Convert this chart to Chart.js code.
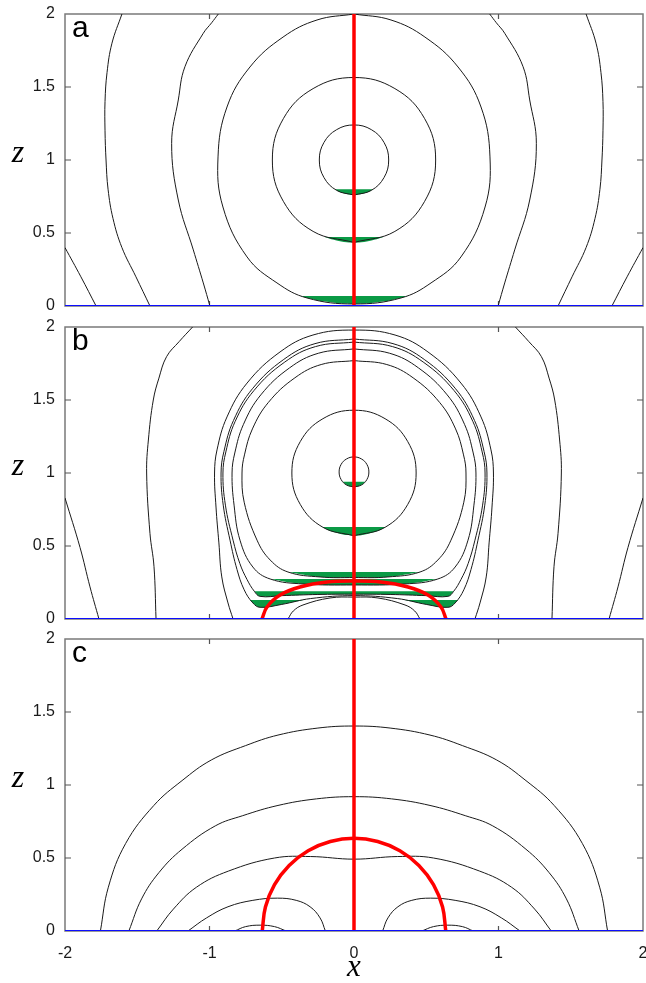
<!DOCTYPE html>
<html>
<head>
<meta charset="utf-8">
<script src="https://cdn.jsdelivr.net/npm/chart.js@4.4.1/dist/chart.umd.min.js"></script>
<style>
  body { margin: 0; background: #fff; width: 646px; height: 983px; position: relative; overflow: hidden; }
  canvas { position: absolute; left: 0; }
</style>
</head>
<body>
<canvas id="panelA" width="646" height="320" style="top:0px"></canvas>
<canvas id="panelB" width="646" height="320" style="top:313px"></canvas>
<canvas id="panelC" width="646" height="358" style="top:625px"></canvas>
<script>
// axis ticks
const xTicks = [-2, -1, 0, 1, 2];
const zTicks = [0, 0.5, 1, 1.5, 2];

// shared lines: symmetry axis and the wall
const redStem = [[0, 0], [0, 2]];
const blueWall = [[-2, 0], [2, 0]];

// ---- panel a ----
const aEdgeL = [[-2, 0.4], [-1.89, 0.2], [-1.785, 0]];
const aEdgeR = [[2, 0.4], [1.89, 0.2], [1.785, 0]];
const aOuterL = [[-1.606, 2], [-1.675, 1.8], [-1.709, 1.6], [-1.723, 1.4], [-1.723, 1.2], [-1.716, 1], [-1.702, 0.8], [-1.668, 0.6], [-1.606, 0.4], [-1.509, 0.2], [-1.412, 0]];
const aOuterR = [[1.606, 2], [1.675, 1.8], [1.709, 1.6], [1.723, 1.4], [1.723, 1.2], [1.716, 1], [1.702, 0.8], [1.668, 0.6], [1.606, 0.4], [1.509, 0.2], [1.412, 0]];
const aSideL = [[-0.939, 2], [-0.985, 1.94], [-1.043, 1.868], [-1.17, 1.639], [-1.216, 1.411], [-1.262, 1.114], [-1.216, 0.726], [-1.112, 0.384], [-1.043, 0.158], [-0.997, 0]];
const aSideR = [[0.939, 2], [0.985, 1.94], [1.043, 1.868], [1.17, 1.639], [1.216, 1.411], [1.262, 1.114], [1.216, 0.726], [1.112, 0.384], [1.043, 0.158], [0.997, 0]];
const aBig = [[0, 2], [0.256, 1.959], [0.491, 1.842], [0.72, 1.637], [0.879, 1.363], [0.941, 1.021], [0.907, 0.678], [0.74, 0.336], [0.533, 0.158], [0.325, 0.055], [0, 0.014],
  [-0.325, 0.055], [-0.533, 0.158], [-0.74, 0.336], [-0.907, 0.678], [-0.941, 1.021], [-0.879, 1.363], [-0.72, 1.637], [-0.491, 1.842], [-0.256, 1.959], [0, 2]];
const aRing = [[0, 0.435], [0.283, 0.511], [0.489, 0.717], [0.565, 1], [0.489, 1.283], [0.283, 1.489], [0, 1.565], [-0.283, 1.489], [-0.489, 1.283], [-0.565, 1], [-0.489, 0.717], [-0.283, 0.511], [0, 0.435]];
const aSmall = [[0, 0.76], [0.12, 0.792], [0.208, 0.88], [0.24, 1], [0.208, 1.12], [0.12, 1.208], [0, 1.24], [-0.12, 1.208], [-0.208, 1.12], [-0.24, 1], [-0.208, 0.88], [-0.12, 0.792], [0, 0.76]];
const aCapBig = [[-0.37, 0.068], [-0.325, 0.055], [-0.2, 0.03], [0, 0.014], [0.2, 0.03], [0.325, 0.055], [0.37, 0.068]];
const aCapRing = [[-0.204, 0.473], [-0.14, 0.453], [-0.07, 0.439], [0, 0.435], [0.07, 0.439], [0.14, 0.453], [0.204, 0.473]];
const aCapSmall = [[-0.133, 0.8], [-0.09, 0.777], [0, 0.76], [0.09, 0.777], [0.133, 0.8]];

// ---- panel b ----
const bEdgeL = [[-2, 0.829], [-1.896, 0.49], [-1.827, 0.22], [-1.765, 0]];
const bEdgeR = [[2, 0.829], [1.896, 0.49], [1.827, 0.22], [1.765, 0]];
const bOuterL = [[-1.117, 2], [-1.21, 1.9], [-1.297, 1.797], [-1.35, 1.65], [-1.389, 1.5], [-1.423, 1.226], [-1.435, 1], [-1.412, 0.587], [-1.384, 0.358], [-1.37, 0]];
const bOuterR = [[1.117, 2], [1.21, 1.9], [1.297, 1.797], [1.35, 1.65], [1.389, 1.5], [1.423, 1.226], [1.435, 1], [1.412, 0.587], [1.384, 0.358], [1.37, 0]];
const bShell1 = [[-0.837, 0], [-0.872, 0.11], [-0.915, 0.288], [-0.935, 0.521], [-0.955, 0.767], [-0.965, 1], [-0.948, 1.158], [-0.879, 1.384], [-0.74, 1.616], [-0.512, 1.829], [-0.284, 1.945], [0, 1.979],
  [0.284, 1.945], [0.512, 1.829], [0.74, 1.616], [0.879, 1.384], [0.948, 1.158], [0.965, 1], [0.955, 0.767], [0.935, 0.521], [0.915, 0.288], [0.872, 0.11], [0.837, 0]];
const bShell2 = [[0, 1.918], [0.27, 1.886], [0.486, 1.778], [0.703, 1.577], [0.834, 1.36], [0.9, 1.148], [0.92, 1], [0.905, 0.78], [0.858, 0.54], [0.81, 0.34], [0.76, 0.2], [0.7, 0.11], [0.65, 0.08], [0.5, 0.1], [0.3, 0.14], [0, 0.16],
  [-0.3, 0.14], [-0.5, 0.1], [-0.65, 0.08], [-0.7, 0.11], [-0.76, 0.2], [-0.81, 0.34], [-0.858, 0.54], [-0.905, 0.78], [-0.92, 1], [-0.9, 1.148], [-0.834, 1.36], [-0.703, 1.577], [-0.486, 1.778], [-0.27, 1.886], [0, 1.918]];
const bShell3 = [[0, 1.897], [0.266, 1.866], [0.479, 1.76], [0.693, 1.564], [0.823, 1.352], [0.887, 1.144], [0.907, 1], [0.89, 0.78], [0.837, 0.54], [0.79, 0.38], [0.74, 0.27], [0.69, 0.19], [0.65, 0.155], [0.5, 0.16], [0.25, 0.168], [0, 0.17],
  [-0.25, 0.168], [-0.5, 0.16], [-0.65, 0.155], [-0.69, 0.19], [-0.74, 0.27], [-0.79, 0.38], [-0.837, 0.54], [-0.89, 0.78], [-0.907, 1], [-0.887, 1.144], [-0.823, 1.352], [-0.693, 1.564], [-0.479, 1.76], [-0.266, 1.866], [0, 1.897]];
const bShell4 = [[0, 1.85], [0.247, 1.82], [0.446, 1.72], [0.645, 1.535], [0.765, 1.333], [0.825, 1.137], [0.844, 1], [0.83, 0.78], [0.789, 0.54], [0.7, 0.356], [0.58, 0.274], [0.353, 0.24], [0, 0.233],
  [-0.353, 0.24], [-0.58, 0.274], [-0.7, 0.356], [-0.789, 0.54], [-0.83, 0.78], [-0.844, 1], [-0.825, 1.137], [-0.765, 1.333], [-0.645, 1.535], [-0.446, 1.72], [-0.247, 1.82], [0, 1.85]];
const bShell5 = [[0, 1.77], [0.227, 1.743], [0.409, 1.652], [0.592, 1.484], [0.703, 1.302], [0.758, 1.124], [0.775, 1], [0.76, 0.8], [0.671, 0.54], [0.58, 0.404], [0.457, 0.322], [0.235, 0.288], [0, 0.284],
  [-0.235, 0.288], [-0.457, 0.322], [-0.58, 0.404], [-0.671, 0.54], [-0.76, 0.8], [-0.775, 1], [-0.758, 1.124], [-0.703, 1.302], [-0.592, 1.484], [-0.409, 1.652], [-0.227, 1.743], [0, 1.77]];
const bRing = [[0, 0.57], [0.215, 0.628], [0.372, 0.785], [0.43, 1], [0.372, 1.215], [0.215, 1.372], [0, 1.43], [-0.215, 1.372], [-0.372, 1.215], [-0.43, 1], [-0.372, 0.785], [-0.215, 0.628], [0, 0.57]];
const bSmall = [[0, 0.904], [0.052, 0.918], [0.089, 0.955], [0.103, 1.007], [0.089, 1.059], [0.052, 1.096], [0, 1.11], [-0.052, 1.096], [-0.089, 1.059], [-0.103, 1.007], [-0.089, 0.955], [-0.052, 0.918], [0, 0.904]];
const bDome = [[-0.457, 0], [-0.42, 0.055], [-0.353, 0.096], [-0.166, 0.144], [0, 0.15], [0.166, 0.144], [0.353, 0.096], [0.42, 0.055], [0.457, 0]];
const bRedArc = [[-0.637, 0], [-0.602, 0.082], [-0.512, 0.164], [-0.374, 0.219], [-0.187, 0.253], [0, 0.26], [0.187, 0.253], [0.374, 0.219], [0.512, 0.164], [0.602, 0.082], [0.637, 0]];
const bCap5 = [[-0.457, 0.322], [-0.235, 0.288], [0, 0.284], [0.235, 0.288], [0.457, 0.322]];
const bCap4 = [[-0.58, 0.274], [-0.353, 0.24], [0, 0.233], [0.353, 0.24], [0.58, 0.274]];
const bCap3 = [[-0.69, 0.19], [-0.65, 0.155], [-0.5, 0.16], [-0.25, 0.168], [0, 0.17], [0.25, 0.168], [0.5, 0.16], [0.65, 0.155], [0.69, 0.19]];
const bCap2L = [[-0.72, 0.13], [-0.7, 0.11], [-0.65, 0.08], [-0.5, 0.1], [-0.35, 0.13]];
const bCap2R = [[0.35, 0.13], [0.5, 0.1], [0.65, 0.08], [0.7, 0.11], [0.72, 0.13]];
const bCapRing = [[-0.219, 0.63], [-0.15, 0.597], [0, 0.57], [0.15, 0.597], [0.219, 0.63]];
const bCapSmall = [[-0.078, 0.94], [-0.04, 0.912], [0, 0.904], [0.04, 0.912], [0.078, 0.94]];

// ---- panel c ----
const cArc1 = [[-1.755, 0], [-1.7, 0.3], [-1.58, 0.6], [-1.385, 0.86], [-1.19, 1.03], [-0.988, 1.171], [-0.75, 1.27], [-0.526, 1.342], [-0.25, 1.39], [0, 1.404],
  [0.25, 1.39], [0.526, 1.342], [0.75, 1.27], [0.988, 1.171], [1.19, 1.03], [1.385, 0.86], [1.58, 0.6], [1.7, 0.3], [1.755, 0]];
const cArc2 = [[-1.558, 0], [-1.47, 0.22], [-1.35, 0.4], [-1.19, 0.56], [-0.96, 0.72], [-0.77, 0.79], [-0.526, 0.86], [-0.26, 0.905], [0, 0.92],
  [0.26, 0.905], [0.526, 0.86], [0.77, 0.79], [0.96, 0.72], [1.19, 0.56], [1.35, 0.4], [1.47, 0.22], [1.558, 0]];
const cArc3 = [[-1.365, 0], [-1.25, 0.15], [-1.09, 0.3], [-0.87, 0.41], [-0.55, 0.5], [-0.3, 0.51], [0, 0.492],
  [0.3, 0.51], [0.55, 0.5], [0.87, 0.41], [1.09, 0.3], [1.25, 0.15], [1.365, 0]];
const cLobeL = [[-1.149, 0], [-1.02, 0.09], [-0.872, 0.166], [-0.7, 0.21], [-0.53, 0.225], [-0.4, 0.21], [-0.304, 0.166], [-0.235, 0.09], [-0.198, 0]];
const cLobeR = [[1.149, 0], [1.02, 0.09], [0.872, 0.166], [0.7, 0.21], [0.53, 0.225], [0.4, 0.21], [0.304, 0.166], [0.235, 0.09], [0.198, 0]];
const cTinyL = [[-0.825, 0], [-0.75, 0.03], [-0.65, 0.04], [-0.55, 0.03], [-0.47, 0]];
const cTinyR = [[0.825, 0], [0.75, 0.03], [0.65, 0.04], [0.55, 0.03], [0.47, 0]];
const cSemi = [[-0.635, 0], [-0.613, 0.164], [-0.55, 0.3175], [-0.449, 0.449], [-0.3175, 0.55], [-0.164, 0.613], [0, 0.635],
  [0.164, 0.613], [0.3175, 0.55], [0.449, 0.449], [0.55, 0.3175], [0.613, 0.164], [0.635, 0]];

const GREEN = "#0a9a45";

// convert [x, z] pairs into chart points
const toXY = (pts) => pts.map((p) => ({ x: p[0], y: p[1] }));

function contour(pts) {
  return { data: toXY(pts), borderColor: "#1a1a1a", borderWidth: 1, tension: 0.4, fill: false, order: 2 };
}

function cap(pts, level) {
  return { data: toXY(pts), borderColor: "rgba(0,0,0,0)", borderWidth: 0, backgroundColor: GREEN, fill: { value: level }, tension: 0.4, order: 3 };
}

function red(pts) {
  return { data: toXY(pts), borderColor: "#ff0000", borderWidth: 3.5, tension: 0.4, fill: false, order: 1 };
}

function blue() {
  return { data: toXY(blueWall), borderColor: "#0d0dff", borderWidth: 2.2, fill: false, order: 0 };
}

// frame, inward ticks, panel letter and z label
const framePlugin = {
  id: "frame",
  beforeDatasetsDraw(chart) {
    const { ctx, chartArea: a, scales } = chart;
    ctx.save();
    ctx.strokeStyle = "#7a7a7a";
    ctx.lineWidth = 1.5;
    ctx.strokeRect(a.left, a.top, a.right - a.left, a.bottom - a.top);
    ctx.lineWidth = 1.2;
    ctx.strokeStyle = "#555";
    ctx.beginPath();
    xTicks.slice(1, -1).forEach((v) => {
      const px = scales.x.getPixelForValue(v);
      ctx.moveTo(px, a.top); ctx.lineTo(px, a.top + 5);
      ctx.moveTo(px, a.bottom); ctx.lineTo(px, a.bottom - 5);
    });
    zTicks.slice(1, -1).forEach((v) => {
      const py = scales.y.getPixelForValue(v);
      ctx.moveTo(a.left, py); ctx.lineTo(a.left + 6, py);
      ctx.moveTo(a.right, py); ctx.lineTo(a.right - 6, py);
    });
    ctx.stroke();
    ctx.restore();
  },
  afterDraw(chart, args, opts) {
    const { ctx, chartArea: a, scales } = chart;
    ctx.save();
    ctx.fillStyle = "#000";
    ctx.font = '30px "Liberation Sans"';
    ctx.textAlign = "left";
    ctx.textBaseline = "alphabetic";
    ctx.fillText(opts.letter, a.left + 7, a.top + 23);
    ctx.font = 'italic 32px "Liberation Serif"';
    ctx.textAlign = "center";
    ctx.fillText("z", 18, scales.y.getPixelForValue(1) + 2);
    ctx.restore();
  },
};

function makePanel(id, letter, datasets, showX) {
  return new Chart(document.getElementById(id), {
    type: "line",
    data: { datasets },
    options: {
      responsive: false,
      animation: false,
      events: [],
      layout: { padding: { left: 0, right: 3, top: 14, bottom: 0 } },
      elements: { point: { radius: 0 } },
      plugins: { legend: { display: false }, tooltip: { enabled: false }, frame: { letter } },
      scales: {
        x: {
          type: "linear",
          min: -2,
          max: 2,
          afterBuildTicks: (s) => { s.ticks = xTicks.map((v) => ({ value: v })); },
          grid: { display: false, drawTicks: false },
          border: { display: false },
          ticks: { display: showX, padding: 13, color: "#1a1a1a", maxRotation: 0, autoSkip: false,
            font: { family: "Liberation Sans", size: 16 }, callback: (v) => String(v) },
          title: { display: showX, text: "x", color: "#000", padding: 0, font: { family: "Liberation Serif", style: "italic", size: 31, lineHeight: 1 } },
          afterFit: (s) => { s.height = showX ? 52 : 14; s.paddingLeft = 0; s.paddingRight = 0; },
        },
        y: {
          type: "linear",
          min: 0,
          max: 2,
          afterBuildTicks: (s) => { s.ticks = zTicks.map((v) => ({ value: v })); },
          grid: { display: false, drawTicks: false },
          border: { display: false },
          ticks: { padding: 10, color: "#1a1a1a", font: { family: "Liberation Sans", size: 16 }, callback: (v) => String(v) },
          afterFit: (s) => { s.width = 65; s.paddingTop = 0; s.paddingBottom = 0; },
        },
      },
    },
    plugins: [framePlugin],
  });
}

makePanel("panelA", "a", [
  blue(), red(redStem),
  contour(aEdgeL), contour(aEdgeR), contour(aOuterL), contour(aOuterR), contour(aSideL), contour(aSideR),
  contour(aBig), contour(aRing), contour(aSmall),
  cap(aCapBig, 0.068), cap(aCapRing, 0.473), cap(aCapSmall, 0.8),
], false);

makePanel("panelB", "b", [
  blue(), red(redStem), red(bRedArc),
  contour(bEdgeL), contour(bEdgeR), contour(bOuterL), contour(bOuterR),
  contour(bShell1), contour(bShell2), contour(bShell3), contour(bShell4), contour(bShell5),
  contour(bRing), contour(bSmall), contour(bDome),
  cap(bCap5, 0.322), cap(bCap4, 0.274), cap(bCap3, 0.19), cap(bCap2L, 0.13), cap(bCap2R, 0.13),
  cap(bCapRing, 0.63), cap(bCapSmall, 0.94),
], false);

makePanel("panelC", "c", [
  blue(), red(redStem), red(cSemi),
  contour(cArc1), contour(cArc2), contour(cArc3),
  contour(cLobeL), contour(cLobeR), contour(cTinyL), contour(cTinyR),
], true);
</script>
</body>
</html>
